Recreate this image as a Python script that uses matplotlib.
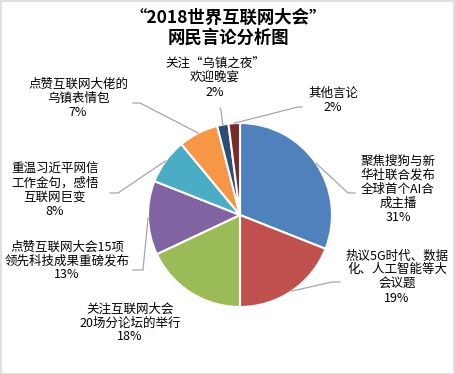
import numpy as np
import matplotlib.pyplot as plt
from matplotlib.patches import Rectangle

plt.rcParams['font.family'] = ['Noto Sans CJK SC', 'DejaVu Sans']

labels = [
    "聚焦搜狗与新\n华社联合发布\n全球首个AI合\n成主播",
    "热议5G时代、数据\n化、人工智能等大\n会议题",
    "关注互联网大会\n20场分论坛的举行",
    "点赞互联网大会15项\n领先科技成果重磅发布",
    "重温习近平网信\n工作金句，感悟\n互联网巨变",
    "点赞互联网大佬的\n乌镇表情包",
    "关注“乌镇之夜”\n欢迎晚宴",
    "其他言论",
]
values = [31, 19, 18, 13, 8, 7, 2, 2]
colors = ["#4F81BD", "#C0504D", "#9BBB59", "#8064A2",
          "#4BACC6", "#F79646", "#2C4D75", "#772C2A"]

# label text centre (pixels from top-left), leader start and elbow
label_pos = [(398, 189), (397, 277), (130, 323), (67, 261),
             (55, 190), (78, 98), (215, 78), (333, 100)]
leaders = [[(355, 193), (348, 193)],
           [(340, 282), (332, 282)],
           None,
           [(133, 270), (143, 270)],
           [(110, 193), (118, 193)],
           [(133, 103), (140, 103)],
           [(220, 108), (221, 110)],
           [(302, 107), (298, 107)]]

W, H = 455, 374
fig = plt.figure(figsize=(W / 100, H / 100), dpi=100)
ax = fig.add_axes([0, 0, 1, 1])

cx, cy, r = 240, H - 215, 92
wedges, _ = ax.pie(values, colors=colors, startangle=90, counterclock=False,
                   center=(cx, cy), radius=r, frame=True,
                   wedgeprops=dict(edgecolor='white', linewidth=1.5))
ax.set_xlim(0, W)
ax.set_ylim(0, H)
ax.set_aspect('equal')
ax.axis('off')

for w, lab, v, (lx, ly), ld in zip(wedges, labels, values, label_pos, leaders):
    ax.text(lx, H - ly, lab + "\n" + f"{v}%", ha='center', va='center',
            fontsize=9, linespacing=1.1, color='#000000')
    if ld is None:
        continue
    ang = np.deg2rad((w.theta1 + w.theta2) / 2)
    ex, ey = cx + r * np.cos(ang), cy + r * np.sin(ang)
    xs = [p[0] for p in ld] + [ex]
    ys = [H - p[1] for p in ld] + [ey]
    ax.plot(xs, ys, color='#A6A6A6', lw=0.9)

fig.text(228 / W, 1 - 28 / H, "“2018世界互联网大会”\n网民言论分析图",
         ha='center', va='center', fontsize=12.5, fontweight='bold',
         linespacing=1.15)

fig.patches.append(Rectangle((0.5 / W, 0.5 / H), 1 - 1.5 / W, 1 - 1.5 / H,
                             transform=fig.transFigure, fill=False,
                             edgecolor='#D9D9D9', lw=1.2))

fig.savefig("out.png", dpi=100, facecolor='white')
